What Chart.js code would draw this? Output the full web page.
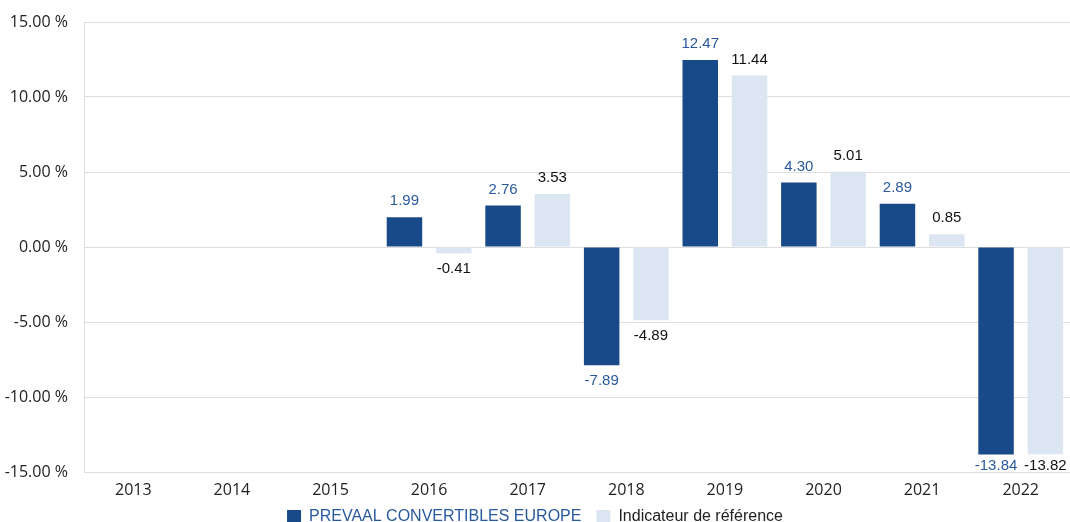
<!DOCTYPE html>
<html>
<head>
<meta charset="utf-8">
<script src="https://cdn.jsdelivr.net/npm/chart.js@4.4.1/dist/chart.umd.min.js"></script>
<style>
    html, body { margin: 0; padding: 0; background: #fff; }
    #wrap { width: 1070px; height: 522px; }
</style>
</head>
<body>
<div id="wrap"><canvas id="chart"></canvas></div>
<script>
(function () {
    'use strict';

    var YEARS = ['2013', '2014', '2015', '2016', '2017', '2018', '2019', '2020', '2021', '2022'];
    var FUND = [null, null, null, 1.99, 2.76, -7.89, 12.47, 4.30, 2.89, -13.84];
    var BENCH = [null, null, null, -0.41, 3.53, -4.89, 11.44, 5.01, 0.85, -13.82];
    var Y_TICKS = [-15, -10, -5, 0, 5, 10, 15];

    var DARK = '#184a8a';
    var LIGHT = '#dce6f2';
    var DARK_TEXT = '#2a5a9e';
    var TICK_FONT = '"Open Sans", "Noto Sans", sans-serif';
    var LABEL_FONT = '"Liberation Sans", Arial, sans-serif';

    // draws value labels above positive bars, below negative ones
    var valueLabels = {
        id: 'valueLabels',
        afterDatasetsDraw: function (chart) {
            var ctx = chart.ctx;
            var area = chart.chartArea;
            ctx.save();
            ctx.font = '15px ' + LABEL_FONT;
            ctx.textAlign = 'center';
            ctx.textBaseline = 'middle';
            chart.data.datasets.forEach(function (ds, di) {
                var meta = chart.getDatasetMeta(di);
                ctx.fillStyle = di === 0 ? DARK_TEXT : '#111';
                meta.data.forEach(function (bar, i) {
                    var v = ds.data[i];
                    if (v == null) { return; }
                    var y = v >= 0 ? bar.y - 16 : Math.min(bar.y + 16, area.bottom - 6);
                    ctx.fillText(v.toFixed(2), bar.x, y);
                });
            });
            ctx.restore();
        }
    };

    // x axis is kept short so the legend sits close; let its labels draw past it
    var unclipX = {
        id: 'unclipX',
        afterLayout: function (chart) {
            chart.scales.x.bottom = chart.height;
        }
    };

    new Chart(document.getElementById('chart'), {
        type: 'bar',
        data: {
            labels: YEARS,
            datasets: [
                { label: 'PREVAAL CONVERTIBLES EUROPE', data: FUND, backgroundColor: DARK },
                { label: 'Indicateur de référence', data: BENCH, backgroundColor: LIGHT }
            ]
        },
        options: {
            responsive: true,
            maintainAspectRatio: false,
            animation: false,
            layout: { padding: { top: 22, right: 0, left: 0, bottom: -13 } },
            datasets: { bar: { categoryPercentage: 1, barPercentage: 0.72 } },
            plugins: {
                tooltip: { enabled: false },
                legend: {
                    position: 'bottom',
                    labels: {
                        boxWidth: 14,
                        boxHeight: 14,
                        padding: 15,
                        font: { family: LABEL_FONT, size: 16 },
                        generateLabels: function (chart) {
                            return chart.data.datasets.map(function (ds, i) {
                                return {
                                    text: ds.label,
                                    fillStyle: ds.backgroundColor,
                                    strokeStyle: ds.backgroundColor,
                                    lineWidth: 0,
                                    fontColor: i === 0 ? DARK_TEXT : '#222',
                                    datasetIndex: i
                                };
                            });
                        }
                    }
                }
            },
            scales: {
                x: {
                    afterFit: function (axis) { axis.height = 22; },
                    grid: { display: false, drawTicks: false },
                    border: { display: false },
                    ticks: { color: '#222', padding: 9, font: { family: TICK_FONT, size: 16 } }
                },
                y: {
                    min: -15,
                    max: 15,
                    afterBuildTicks: function (axis) {
                        axis.ticks = Y_TICKS.map(function (v) { return { value: v }; });
                    },
                    afterFit: function (axis) {
                        axis.width = 84;
                        axis.paddingTop = 0;
                        axis.paddingBottom = 0;
                    },
                    grid: { color: '#dddddd', drawTicks: false },
                    border: { display: true, color: '#dddddd' },
                    ticks: {
                        color: '#222',
                        padding: 16,
                        font: { family: TICK_FONT, size: 16 },
                        callback: function (v) { return v.toFixed(2) + ' %'; }
                    }
                }
            }
        },
        plugins: [valueLabels, unclipX]
    });
})();
</script>
</body>
</html>
